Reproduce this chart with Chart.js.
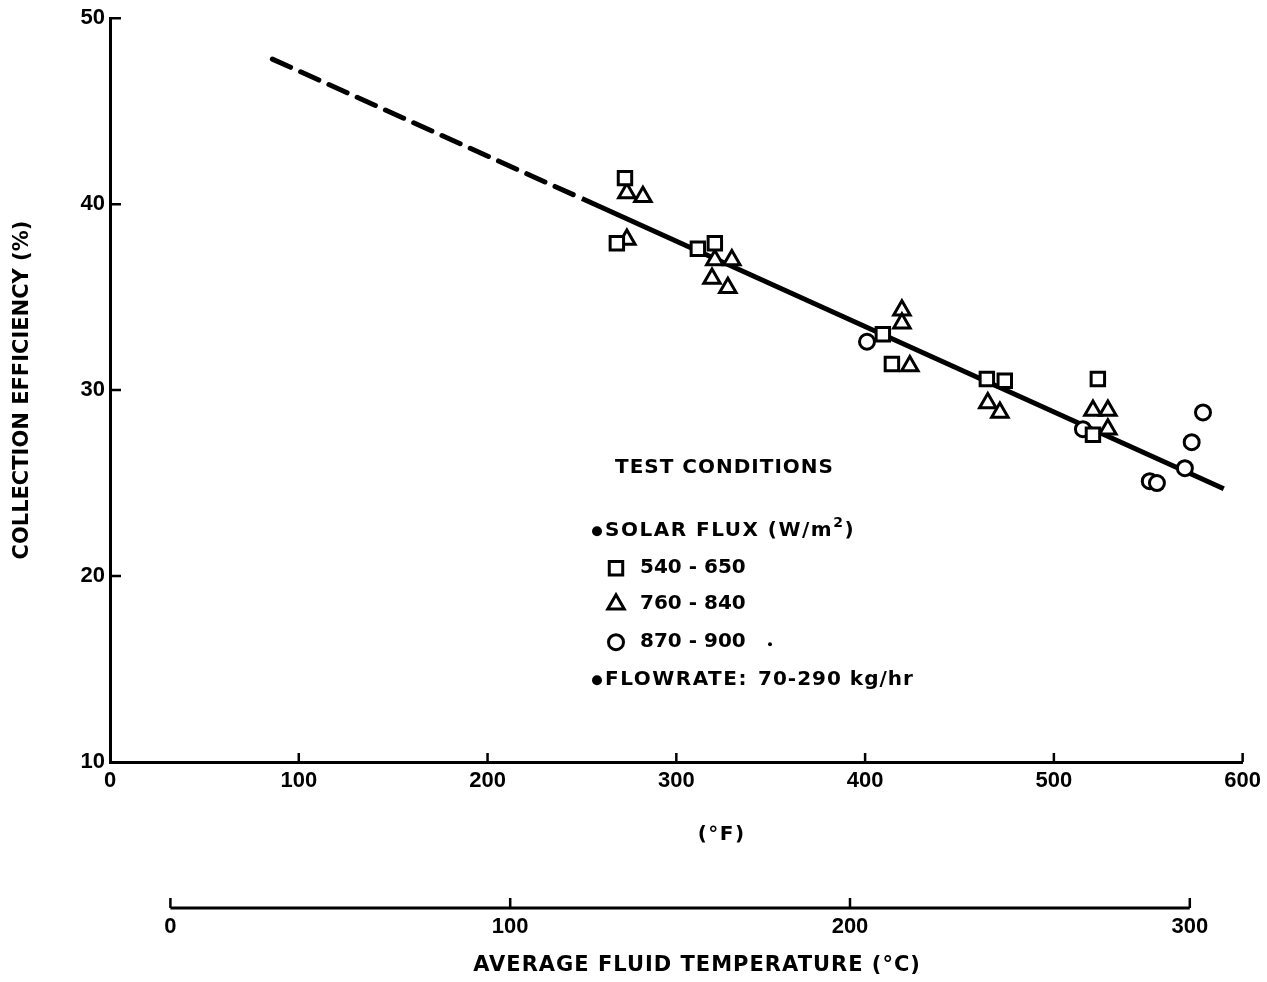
<!DOCTYPE html>
<html>
<head>
<meta charset="utf-8">
<script src="https://cdn.jsdelivr.net/npm/chart.js@4.4.1/dist/chart.umd.min.js"></script>
<style>
  body { margin: 0; background: #fff; }
  #wrap { width: 1267px; height: 982px; position: relative; }
</style>
</head>
<body>
<div id="wrap"><canvas id="chart"></canvas></div>
<script>
// tick values
const tempTicksF = [0, 100, 200, 300, 400, 500, 600];
const tempTicksC = [0, 100, 200, 300];
const effTicks = [10, 20, 30, 40, 50];

// solar flux 540 - 650 W/m2 (squares)
const sqTemp = [272.8, 268.5, 311.4, 320.4, 409.4, 414.2, 464.5, 474.0, 523.3, 520.7];
const sqEff  = [41.4, 37.9, 37.6, 37.9, 33.0, 31.4, 30.6, 30.5, 30.6, 27.6];

// solar flux 760 - 840 W/m2 (triangles)
const triTemp = [273.8, 282.3, 273.8, 320.4, 329.4, 318.9, 327.3, 419.5, 419.5, 423.7, 465.0, 471.4, 520.7, 528.6, 528.6];
const triEff  = [40.6, 40.4, 38.1, 37.0, 37.0, 36.0, 35.5, 34.3, 33.6, 31.3, 29.3, 28.8, 28.9, 28.9, 27.9];

// solar flux 870 - 900 W/m2 (circles)
const cirTemp = [401.0, 515.4, 579.0, 573.0, 569.4, 550.8, 554.6];
const cirEff  = [32.6, 27.9, 28.8, 27.2, 25.8, 25.1, 25.0];

// fitted line: dashed extrapolation + solid part
const fitDashTemp = [86, 250];
const fitDashEff  = [47.8, 40.3];
const fitTemp = [250, 590];
const fitEff  = [40.3, 24.7];

const pts = (xs, ys) => xs.map((v, i) => ({ x: v, y: ys[i] }));

const tickFont = { family: "'Liberation Sans', Arial, sans-serif", size: 22, weight: 'bold' };
const labelFamily = "'DejaVu Sans', 'Liberation Sans', sans-serif";

// extra drawing: inner tick marks, celsius axis line, x titles, legend block
const decorations = {
  id: 'decorations',
  afterDraw(chart) {
    const { ctx, chartArea: a, scales: { x, y, xc } } = chart;
    const H = Chart.helpers;
    ctx.save();
    ctx.strokeStyle = '#000';
    ctx.fillStyle = '#000';
    ctx.lineWidth = 2.5;
    ctx.beginPath();
    effTicks.slice(1).forEach(v => {
      const py = y.getPixelForValue(v);
      ctx.moveTo(a.left, py); ctx.lineTo(a.left + 11, py);
    });
    tempTicksF.slice(1).forEach(v => {
      const px = x.getPixelForValue(v);
      ctx.moveTo(px, a.bottom); ctx.lineTo(px, a.bottom - 9);
    });
    ctx.stroke();

    // celsius axis
    const cy = xc.top + 36;
    ctx.lineWidth = 3;
    ctx.beginPath();
    ctx.moveTo(xc.getPixelForValue(tempTicksC[0]), cy);
    ctx.lineTo(xc.getPixelForValue(tempTicksC[tempTicksC.length - 1]), cy);
    ctx.stroke();
    ctx.lineWidth = 2.5;
    ctx.beginPath();
    tempTicksC.forEach(v => {
      const px = xc.getPixelForValue(v);
      ctx.moveTo(px, cy); ctx.lineTo(px, cy - 10);
    });
    ctx.stroke();

    // x titles
    ctx.textBaseline = 'middle';
    ctx.textAlign = 'center';
    ctx.font = 'bold 20px ' + labelFamily;
    ctx.letterSpacing = '1.5px';
    ctx.fillText('(°F)', x.getPixelForValue(324), x.top + 73);
    ctx.font = 'bold 21px ' + labelFamily;
    ctx.letterSpacing = '1px';
    ctx.fillText('AVERAGE FLUID TEMPERATURE (°C)', xc.getPixelForValue(155), xc.bottom - 16);

    // legend block
    const L = a.left;
    const T = a.top;
    ctx.textAlign = 'left';
    ctx.font = 'bold 20px ' + labelFamily;
    ctx.letterSpacing = '1px';
    ctx.fillText('TEST CONDITIONS', L + 505, T + 450);

    ctx.letterSpacing = '1.5px';
    ctx.beginPath(); ctx.arc(L + 487, T + 513, 5, 0, Math.PI * 2); ctx.fill();
    ctx.fillText('SOLAR FLUX (W/m', L + 495, T + 513);
    let w = ctx.measureText('SOLAR FLUX (W/m').width;
    ctx.font = 'bold 14px ' + labelFamily;
    ctx.fillText('2', L + 495 + w, T + 505);
    let w2 = ctx.measureText('2').width;
    ctx.font = 'bold 20px ' + labelFamily;
    ctx.fillText(')', L + 495 + w + w2, T + 513);

    const rows = [
      { style: 'rect', r: 9.5, text: '540 - 650', ty: 550 },
      { style: 'triangle', r: 9.5, text: '760 - 840', ty: 586 },
      { style: 'circle', r: 7.5, text: '870 - 900', ty: 624 }
    ];
    ctx.letterSpacing = '0px';
    rows.forEach(row => {
      ctx.fillStyle = '#fff';
      ctx.lineWidth = 3;
      H.drawPoint(ctx, { pointStyle: row.style, radius: row.r, borderWidth: 3, rotation: 0 }, L + 506, T + row.ty);
      ctx.fillStyle = '#000';
      ctx.fillText(row.text, L + 530, T + row.ty);
    });
    ctx.beginPath(); ctx.arc(L + 660, T + 626, 2, 0, Math.PI * 2); ctx.fill();

    ctx.letterSpacing = '1.5px';
    ctx.beginPath(); ctx.arc(L + 487, T + 662, 5, 0, Math.PI * 2); ctx.fill();
    ctx.fillText('FLOWRATE:', L + 495, T + 662);
    ctx.letterSpacing = '1px';
    ctx.fillText('70-290 kg/hr', L + 648, T + 662);
    ctx.restore();
  }
};

const markerStyle = {
  backgroundColor: '#fff',
  borderColor: '#000',
  pointBorderWidth: 3,
  showLine: false,
  order: 1
};

new Chart(document.getElementById('chart'), {
  type: 'scatter',
  data: {
    datasets: [
      { ...markerStyle, label: '540 - 650', data: pts(sqTemp, sqEff), pointStyle: 'rect', pointRadius: 9.5 },
      { ...markerStyle, label: '760 - 840', data: pts(triTemp, triEff), pointStyle: 'triangle', pointRadius: 9.5 },
      { ...markerStyle, label: '870 - 900', data: pts(cirTemp, cirEff), pointStyle: 'circle', pointRadius: 7.5 },
      {
        type: 'line', label: 'fit (extrapolated)', data: pts(fitDashTemp, fitDashEff),
        borderColor: '#000', borderWidth: 5, borderDash: [20, 11], borderCapStyle: 'round',
        pointRadius: 0, order: 5
      },
      {
        type: 'line', label: 'fit', data: pts(fitTemp, fitEff),
        borderColor: '#000', borderWidth: 5, pointRadius: 0, order: 5
      }
    ]
  },
  options: {
    responsive: true,
    maintainAspectRatio: false,
    animation: false,
    layout: { padding: { top: 17, right: 24, left: 0, bottom: 0 } },
    plugins: { legend: { display: false }, tooltip: { enabled: false } },
    scales: {
      x: {
        type: 'linear', position: 'bottom',
        min: 0, max: 600,
        afterBuildTicks: s => { s.ticks = tempTicksF.map(v => ({ value: v })); },
        afterFit: s => { s.height = 110; },
        grid: { display: false, drawTicks: false },
        border: { display: true, color: '#000', width: 3 },
        ticks: { color: '#000', font: tickFont, padding: 6, maxRotation: 0 }
      },
      xc: {
        type: 'linear', position: 'bottom', axis: 'x',
        min: (0 - 32) / 1.8, max: (600 - 32) / 1.8,
        afterBuildTicks: s => { s.ticks = tempTicksC.map(v => ({ value: v })); },
        afterFit: s => { s.height = 110; },
        grid: { display: false, drawTicks: false },
        border: { display: false },
        ticks: { color: '#000', font: tickFont, padding: 42, maxRotation: 0 }
      },
      y: {
        type: 'linear', position: 'left',
        min: 10, max: 50,
        afterBuildTicks: s => { s.ticks = effTicks.map(v => ({ value: v })); },
        afterFit: s => { s.width = 110; },
        grid: { display: false, drawTicks: false },
        border: { display: true, color: '#000', width: 3 },
        ticks: { color: '#000', font: tickFont, padding: 5 },
        title: {
          display: true, text: 'COLLECTION EFFICIENCY (%)', color: '#000',
          font: { family: labelFamily, size: 21, weight: 'bold' },
          padding: { top: 10, bottom: 0 }
        }
      }
    }
  },
  plugins: [decorations]
});
</script>
</body>
</html>
